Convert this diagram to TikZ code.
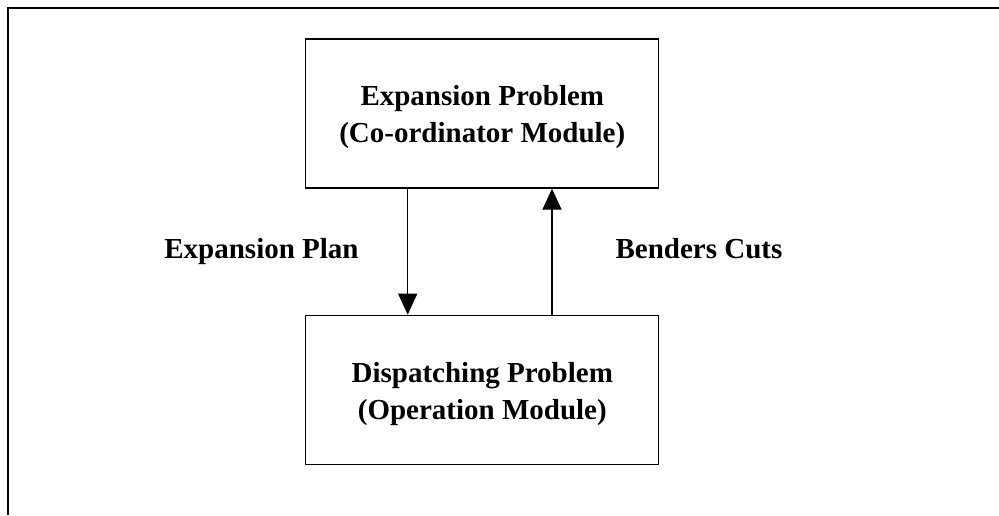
\documentclass[tikz,border=0pt]{standalone}
\usepackage{fontspec}
\setmainfont{Liberation Serif}
\usepackage{tikz}
\usetikzlibrary{arrows.meta,positioning}
\tikzset{
	module box/.style={
		rectangle,
		draw,
		line width=1.3pt,
		minimum width=353pt,
		minimum height=149pt,
		align=center,
		font=\fontsize{29}{37}\selectfont\bfseries
	},
	flow label/.style={
		anchor=base,
		font=\fontsize{29}{36}\selectfont\bfseries
	},
	flow arrow/.style={
		-{Triangle[width=19pt,length=21pt]},
		line width=1.3pt
	},
}

\begin{document}
\begin{tikzpicture}[x=1pt,y=-1pt]
\useasboundingbox (0,0) rectangle (999,515);
%\draw[line width=2.5pt] (8,515) -- (8,8) -- (999,8);
\draw[line width=2.6pt] (8,515) -- (8,8) -- (999,8);

\node[module box] (expansion) at (482.3,113.5) {\rule{0pt}{28pt}Expansion Problem\\(Co-ordinator Module)};
	\node[module box, below=126pt of expansion] (dispatching) {\rule{0pt}{28pt}Dispatching Problem\\(Operation Module)};

\node[flow label] (plan) at (261.5,258) {Expansion Plan};
\node[flow label] (cuts) at (699,258) {Benders Cuts};

\draw[flow arrow] ([xshift=-74.6pt]expansion.south) -- ([xshift=-74.6pt]dispatching.north);
\draw[flow arrow] ([xshift=69.7pt]dispatching.north) -- ([xshift=69.7pt]expansion.south);

\end{tikzpicture}
\end{document}
